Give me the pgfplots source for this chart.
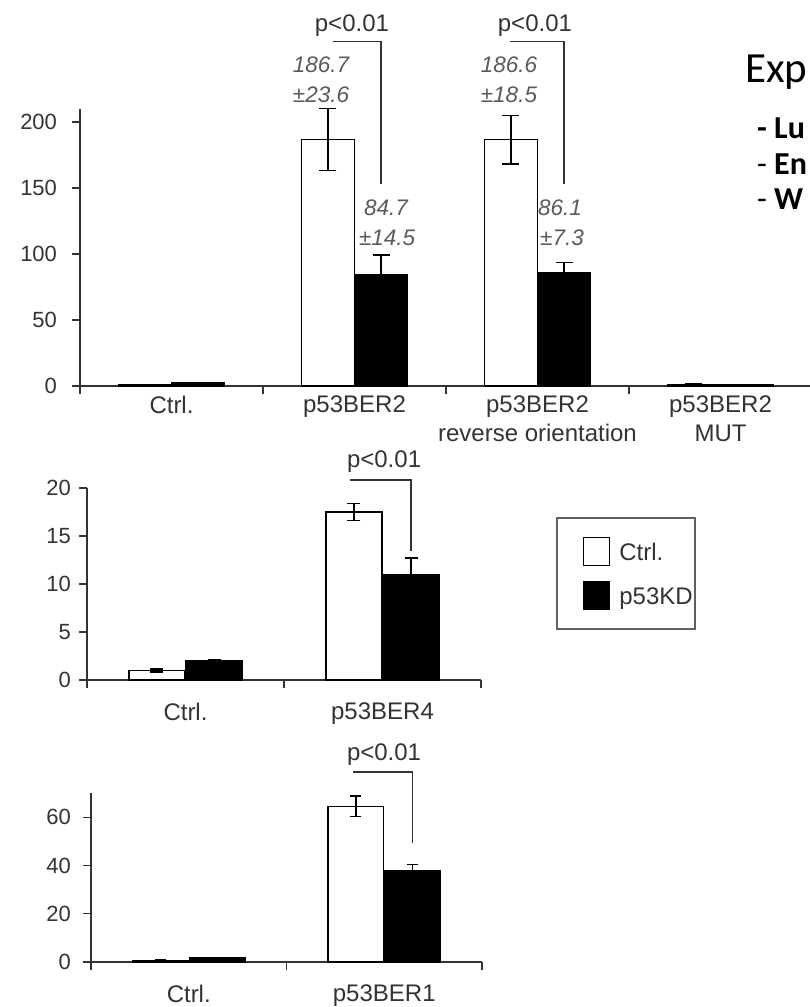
\documentclass[border=0pt]{standalone}
\usepackage{fontspec}
\setmainfont{Liberation Sans}
\newfontfamily\slidefont{Carlito}
\usepackage{pgfplots}
\pgfplotsset{compat=1.18}

\definecolor{axgray}{HTML}{333333}
\definecolor{valgray}{HTML}{5A5A5A}

\pgfplotsset{
 barpanel/.style={
  scale only axis,
  axis lines*=left,
  axis line style={axgray, line width=1.4pt},
  ybar,
  ymin=0, xmin=-0.5,
  tick align=outside,
  tick pos=left,
  major tick length=8pt,
  minor tick length=8pt,
  tick style={axgray, line width=1.3pt},
  major x tick style={draw=none},
  minor xtick={-0.5,0.5,1.5,2.5,3.5},
  clip=false,
  /pgf/number format/assume math mode=true,
  yticklabel style={font=\fontsize{22}{26}\selectfont, text=axgray},
  xticklabel style={font=\fontsize{24}{29}\selectfont, text=axgray, align=center, inner sep=0pt},
 },
 errstyle/.style={error bars/.cd, y dir=both, y explicit,
   error bar style={black, line width=1.4pt},
   error mark options={black, line width=1.4pt, mark size=#1, rotate=90}},
 ctrlbar/.style={fill=white, draw=black, line width=1.4pt, bar shift=-0.145,
   legend image code/.code={\path[draw=none, fill=none] (0pt,-14pt) rectangle (25pt,14pt);
     \draw[fill=white, draw=black, line width=1.2pt] (25pt,-14pt) rectangle (51pt,14pt);}},
 kdbar/.style={fill=black, draw=black, line width=1.4pt, bar shift=0.145,
   legend image code/.code={\path[draw=none, fill=none] (0pt,-14pt) rectangle (25pt,14pt);
     \draw[fill=black, draw=black, line width=1.2pt] (25pt,-14pt) rectangle (51pt,14pt);}},
}
\tikzset{
 pval/.style={font=\fontsize{24}{29}\selectfont, text=axgray},
 vlab/.style={font=\fontsize{22.5}{27}\selectfont\itshape, text=valgray},
}

\begin{document}
\begin{tikzpicture}

% ---------------- top panel ----------------
\begin{axis}[barpanel, at={(80pt,-386pt)}, anchor=south west,
  width=732pt, height=277.2pt, xmax=3.5, ymax=210,
  ytick={0,50,100,150,200}, bar width=0.29,
  xtick={0,1,2,3},
  xticklabels={Ctrl.,p53BER2,{p53BER2\\reverse orientation},{p53BER2\\MUT}},
  yticklabel style={xshift=-11.5pt},
  xticklabel style={yshift=-1.5pt}]
\addplot+[ctrlbar, errstyle=8.5pt] coordinates {
  (0,1.0) +- (0,0.3)
  (1,186.7) +- (0,23.6)
  (2,186.6) +- (0,18.5)
  (3,1.2) +- (0,0.2)};
\addplot+[kdbar, errstyle=8.5pt] coordinates {
  (0,2.2) +- (0,0.3)
  (1,84.7) +- (0,14.5)
  (2,86.1) +- (0,7.3)
  (3,1.0) +- (0,0.2)};
\draw[axgray, line width=1.4pt] (axis cs:0.882,261) -- (axis cs:1.145,261) -- (axis cs:1.145,153);
\draw[axgray, line width=1.4pt] (axis cs:1.85,261) -- (axis cs:2.145,261) -- (axis cs:2.145,153);
\node[pval] at (axis cs:0.986,272.7) {p<0.01};
\node[pval] at (axis cs:1.986,272.7) {p<0.01};
\node[vlab] at (axis cs:0.817,243) {186.7};
\node[vlab] at (axis cs:0.817,221) {±23.6};
\node[vlab] at (axis cs:1.172,134.8) {84.7};
\node[vlab] at (axis cs:1.178,112) {±14.5};
\node[vlab] at (axis cs:1.844,243) {186.6};
\node[vlab] at (axis cs:1.844,221) {±18.5};
\node[vlab] at (axis cs:2.123,134.8) {86.1};
\node[vlab] at (axis cs:2.134,112) {±7.3};
\end{axis}

% ---------------- middle panel ----------------
\begin{axis}[barpanel, at={(87pt,-680pt)}, anchor=south west,
  width=394pt, height=192pt, xmax=1.5, ymax=20,
  ytick={0,5,10,15,20}, bar width=0.284,
  xtick={0,1},
  xticklabels={Ctrl.,p53BER4},
  yticklabel style={xshift=-4.7pt},
  xticklabel style={yshift=-15pt},
  legend style={at={(1.19,0.849)}, anchor=north west,
    draw=gray!75!black, line width=1.8pt, fill=white,
    inner xsep=2pt, inner ysep=19pt,
    font=\fontsize{24}{29}\selectfont, text=axgray,
    nodes={inner sep=0pt, text depth=0pt},
    cells={anchor=west}, row sep=15pt,
    /tikz/every odd column/.append style={column sep=9pt}}]
\addplot+[ctrlbar, errstyle=6.5pt] coordinates {
  (0,1.0) +- (0,0.15)
  (1,17.5) +- (0,0.9)};
\addplot+[kdbar, errstyle=6.5pt] coordinates {
  (0,2.0) +- (0,0.1)
  (1,11.0) +- (0,1.7)};
\legend{Ctrl.,p53KD}
\draw[axgray, line width=1.4pt] (axis cs:0.835,20.83) -- (axis cs:1.145,20.83) -- (axis cs:1.145,13.4);
\node[pval] at (axis cs:1.008,22.7) {p<0.01};
\end{axis}

% ---------------- bottom panel ----------------
\begin{axis}[barpanel, at={(91pt,-962pt)}, anchor=south west,
  width=391pt, height=169pt, xmax=1.5, ymax=70,
  ytick={0,20,40,60}, bar width=0.284,
  xtick={0,1},
  xticklabels={Ctrl.,p53BER1},
  yticklabel style={xshift=-8.7pt},
  xticklabel style={yshift=-14.5pt}]
\addplot+[ctrlbar, errstyle=5.5pt] coordinates {
  (0,0.6) +- (0,0.2)
  (1,64.5) +- (0,4.2)};
\addplot+[kdbar, errstyle=5.5pt] coordinates {
  (0,1.6) +- (0,0.3)
  (1,38.0) +- (0,2.4)};
\draw[axgray, line width=1.4pt] (axis cs:0.84,78.7) -- (axis cs:1.145,78.7) -- (axis cs:1.145,49.3);
\node[pval] at (axis cs:0.999,85.7) {p<0.01};
\end{axis}

% ---------------- slide text (cropped) ----------------
\node[anchor=base west, font=\slidefont\fontsize{43}{50}\selectfont, inner sep=0pt] at (745pt,-82pt) {Exp};
\node[anchor=base west, font=\slidefont\bfseries\fontsize{32}{38}\selectfont, inner sep=0pt] at (757pt,-138pt) {- Lu};
\node[anchor=base west, font=\slidefont\fontsize{32}{38}\selectfont, inner sep=0pt] at (757pt,-174pt) {- \textbf{En}};
\node[anchor=base west, font=\slidefont\fontsize{32}{38}\selectfont, inner sep=0pt] at (757pt,-209pt) {- \textbf{W}};

\pgfresetboundingbox
\path (0pt,0pt) rectangle (809pt,-1007pt);
\end{tikzpicture}
\end{document}
